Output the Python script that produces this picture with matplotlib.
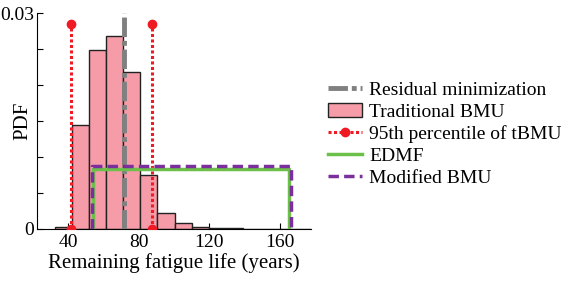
import numpy as np
import matplotlib.pyplot as plt

plt.rcParams["font.family"] = ["Liberation Serif", "DejaVu Serif"]

# histogram of the traditional BMU (bin edges, years; density)
edges = [32.5, 42.2, 51.9, 61.6, 71.3, 81.0, 90.7, 100.4, 110.1, 119.8,
         129.5, 139.2, 148.9, 158.6, 168.3, 178.0]
dens = [0.0003, 0.0145, 0.0249, 0.0268, 0.0218, 0.0075, 0.0022, 0.0008,
        0.0003, 0.0001, 0.00008, 0.00006, 0.00005, 0.00004, 0.00003]

resid_min = 72.0            # residual minimization estimate
p95 = [41.7, 87.5]          # 95th percentile bounds of tBMU
p95_top = 0.0285
edmf = [54.0, 165.0, 0.0083]     # lower, upper, pdf height
mbmu = [53.8, 166.5, 0.0087]

fig = plt.figure(figsize=(5.61, 2.83), dpi=100)
ax = fig.add_axes([0.066, 0.191, 0.488, 0.763])

ax.bar(edges[:-1], dens, width=np.diff(edges), align="edge",
       color="#f59ca8", edgecolor="#222222", lw=1.0, label="Traditional BMU", zorder=2)
ax.plot([resid_min, resid_min], [0, 0.03], color="#808080", lw=3.5,
        ls=(0, (4, 0.8, 1, 0.8)), label="Residual minimization", zorder=3)
for i, xv in enumerate(p95):
    ax.plot([xv, xv], [0, p95_top], color="#f01a24", lw=2.2, ls=(0, (1, 0.8)),
            marker="o", ms=6, label="95th percentile of tBMU" if i == 0 else None, zorder=4)
ax.plot([edmf[0], edmf[0], edmf[1], edmf[1]], [0, edmf[2], edmf[2], 0],
        color="#6cc04a", lw=2.5, label="EDMF", zorder=5)
ax.plot([mbmu[0], mbmu[0], mbmu[1], mbmu[1]], [0, mbmu[2], mbmu[2], 0],
        color="#7a2f9c", lw=2.5, ls=(0, (3, 1.5)), label="Modified BMU", zorder=6)

ax.set_xlim(22.5, 177.5)
ax.set_ylim(0, 0.03)
ax.set_xticks([40, 80, 120, 160])
ax.set_yticks(np.arange(0, 0.0301, 0.005))
ax.set_yticklabels(["0", "", "", "", "", "", "0.03"])
ax.tick_params(direction="in", labelsize=14, length=4)
ax.tick_params(axis="y", pad=2)
for s in ["top", "right"]:
    ax.spines[s].set_visible(False)
ax.set_xlabel("Remaining fatigue life (years)", fontsize=15, labelpad=2)
ax.set_ylabel("PDF", fontsize=15)
ax.yaxis.set_label_coords(-0.016, 0.5)

h, l = ax.get_legend_handles_labels()
order = ["Residual minimization", "Traditional BMU", "95th percentile of tBMU",
         "EDMF", "Modified BMU"]
idx = [l.index(o) for o in order]
ax.legend([h[i] for i in idx], order, loc="center left", bbox_to_anchor=(1.035, 0.44),
          frameon=False, fontsize=14, handlelength=1.75, handletextpad=0.35,
          labelspacing=0.22, borderaxespad=0)

fig.savefig("out.png", dpi=100)
